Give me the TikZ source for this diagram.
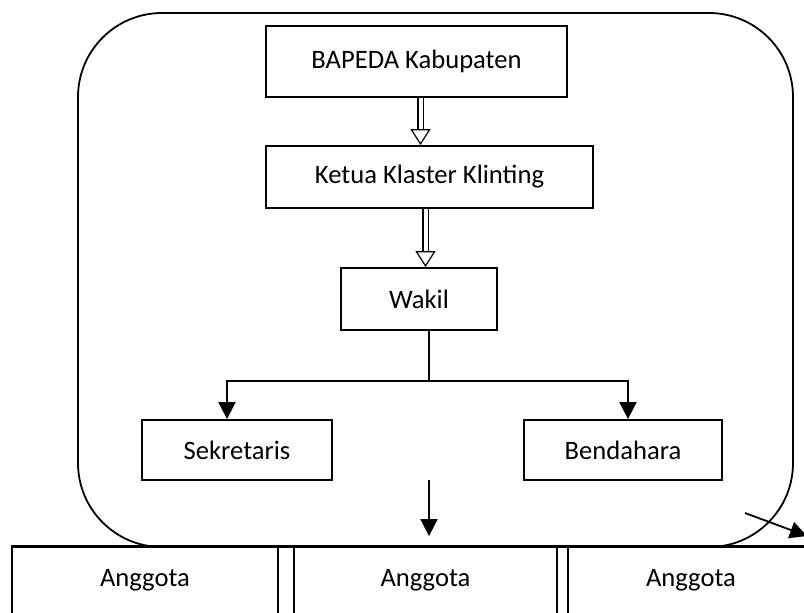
\documentclass[tikz,border=0pt]{standalone}
\usepackage{fontspec}
\setmainfont{Carlito}
\usetikzlibrary{positioning,arrows.meta}

\begin{document}
\begin{tikzpicture}[
    x=0.5pt,y=-0.5pt,
    font=\fontsize{13.3}{15}\selectfont,
    unit/.style={draw,line width=0.9pt,inner sep=0pt},
    frame/.style={draw,line width=0.9pt,rounded corners=42pt,inner sep=0pt,
      minimum width=357.5pt,minimum height=267pt},
    hollow/.style={double,double distance=2pt,line width=0.6pt,
      -{Triangle[open,length=8pt,width=10pt]}},
    line/.style={line width=0.9pt},
    arrow/.style={line width=0.9pt,-{Triangle[length=8.5pt,width=8.5pt]}}
]
\useasboundingbox (0,0) rectangle (804,612);

% Klaster frame
\node[frame] (klaster) at (435.5,280) {};

% Top levels
\node[unit,minimum width=150.5pt,minimum height=35.5pt] (bapeda) at (416.5,61.5) {BAPEDA Kabupaten};
\node[unit,minimum width=163.5pt,minimum height=31pt] (ketua) at (429.5,177) {Ketua Klaster Klinting};
\node[unit,minimum width=78pt,minimum height=31pt] (wakil) at (419,299) {Wakil};

\draw[hollow] ([xshift=2pt]bapeda.south) -- ([xshift=2pt]bapeda.south |- ketua.north);
\draw[hollow] ([xshift=-2pt]ketua.south) -- ([xshift=-2pt]ketua.south |- wakil.north);

% Sekretaris and Bendahara
\node[unit,minimum width=95pt,minimum height=30pt] (sekretaris) at (237,450) {Sekretaris};
\node[unit,minimum width=99pt,minimum height=30pt] (bendahara) at (623,450) {Bendahara};

\coordinate (split) at (429,381);
\draw[line] (wakil.south -| split) -- (split);
\draw[arrow] (split) -| ([xshift=-5pt]sekretaris.north);
\draw[arrow] (split) -| ([xshift=2.5pt]bendahara.north);

% Anggota
\node[unit,minimum width=133pt,minimum height=33.5pt] (anggota1) at (145,580.5) {Anggota};
\node[unit,minimum width=131.5pt,minimum height=33.5pt] (anggota2) at (425.5,580.5) {Anggota};
\node[unit,minimum width=123pt,minimum height=33.5pt] (anggota3) at (691,580.5) {Anggota};
\draw[line] (anggota1.north west) -- (anggota3.north east);

\coordinate (down) at (429,480);
\draw[arrow,shorten >=5pt] (down) -- (down |- anggota2.north);

\coordinate (out) at (745,513);
\coordinate (outend) at (807,536);
\draw[arrow] (out) -- (outend);

\end{tikzpicture}
\end{document}
